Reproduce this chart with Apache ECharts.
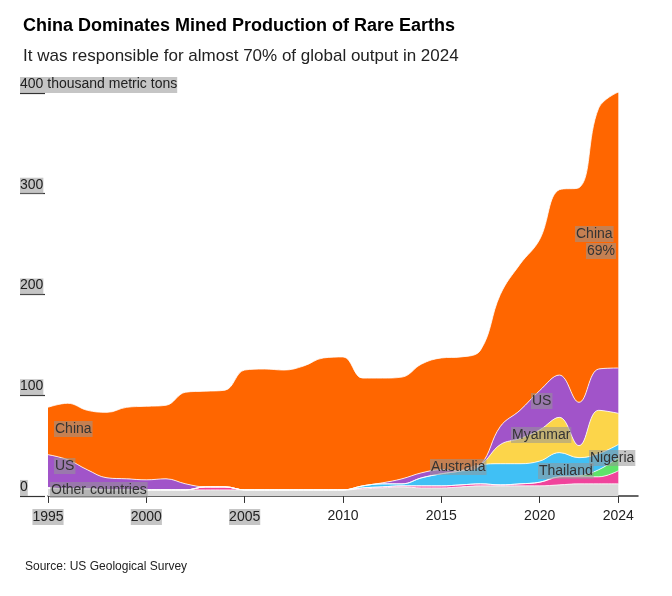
<!DOCTYPE html>
<html><head><meta charset="utf-8">
<script src="https://cdn.jsdelivr.net/npm/echarts@6/dist/echarts.min.js"></script>
<style>html,body{margin:0;background:#fff}#c{width:672px;height:596px}</style>
</head><body><div id="c"></div>
<script>
var years = [];
for (var y = 1995; y <= 2024; y++) years.push(String(y));
var other     = [8,7,7,6,6,6,6,6,6,6,6,6,6,6,6,6,7,8,9,8,8,9,10,10,10,10,11,12,12,12];
var thailand  = [0,0,0,0,0,0,0,0,3,3,0,0,0,0,0,0,1,1,1,2,2,2,2,1,2,3.6,8,7,7,13];
var nigeria   = [0,0,0,0,0,0,0,0,0,0,0,0,0,0,0,0,0,0,0,0,0,0,0,0,0,0,0,1,7,13];
var australia = [0,0,0,0,0,0,0,0,0,0,0,0,0,0,0,0,2,3,2,8,12,14,19,21,20,21,24,18,16,13];
var myanmar   = [0,0,0,0,0,0,0,0,0,0,0,0,0,0,0,0,0,0,0,0,0,0,0,19,25,31,35,12,43,31];
var us        = [33,29,19,12,11,10,11,6,0,0,0,0,0,0,0,0,0,1,5,5,4,0,0,18,28,39,42,43,41,45];
var china     = [47,56,59,65,71,73,73,91,95,96,119,120,119,123,131,132,107,104,101,108,111,113,114,131,145,150,184,213,259,274];
var shownYears = ['1995','2000','2005','2010','2015','2020','2024'];
var hl = ['1995','2000','2005'];

var cats = years.concat(['2025']);
function layer(name, data, color){
  return { name: name, type: 'line', stack: 'all', smooth: 0.4, symbol: 'none',
    xAxisIndex: 1, yAxisIndex: 1,
    data: data, lineStyle: { color: '#fff', width: 0.8 },
    areaStyle: { color: color, opacity: 1 }, itemStyle: { color: color } };
}
var chart = echarts.init(document.getElementById('c'));
var lbl = { fontFamily: 'Liberation Sans', fontSize: 14, fill: '#333', backgroundColor: 'rgba(150,150,150,0.55)', padding: [1,1] };
function tag(text, x, y){ return { type: 'text', left: x, top: y, z: 100, style: Object.assign({ text: text }, lbl) }; }
var showIdx = function(i, v){ return shownYears.indexOf(String(v)) >= 0; };
chart.setOption({
  animation: false,
  textStyle: { fontFamily: 'Liberation Sans' },
  title: [
    { text: 'China Dominates Mined Production of Rare Earths', left: 18, top: 12, textStyle: { fontSize: 18, fontWeight: 'bold', color: '#000' } },
    { text: 'It was responsible for almost 70% of global output in 2024', left: 18, top: 43, textStyle: { fontSize: 17, fontWeight: 'normal', color: '#222' } },
    { text: 'Source: US Geological Survey', left: 20, top: 556, textStyle: { fontSize: 12, fontWeight: 'normal', color: '#222' } }
  ],
  grid: [
    { left: 20, right: 36, top: 93, bottom: 93 },
    { left: 48, right: 34, top: 93, bottom: 93 }
  ],
  xAxis: [
    { type: 'value', gridIndex: 0, show: false, min: 0, max: 1 },
    { type: 'category', gridIndex: 1, data: cats, boundaryGap: false,
      axisLine: { lineStyle: { color: '#333', width: 1.5 } },
      axisTick: { interval: showIdx, length: 7, lineStyle: { color: '#333' } },
      axisLabel: { interval: showIdx, fontSize: 14, color: '#222', margin: 6,
        formatter: function(v){ return hl.indexOf(v) >= 0 ? '{h|' + v + '}' : v; },
        rich: { h: { fontSize: 14, color: '#222', backgroundColor: 'rgba(150,150,150,0.55)', padding: [1,0] } } } }
  ],
  yAxis: [
    { type: 'value', gridIndex: 0, min: -7, max: 400,
      axisLine: { show: false },
      axisTick: { show: true, inside: true, length: 25, customValues: [0,100,200,300,400], lineStyle: { color: '#333', width: 1.2 } },
      axisLabel: { inside: true, customValues: [0,100,200,300,400], verticalAlign: 'bottom', align: 'left', margin: 0,
        fontSize: 14, color: '#222', backgroundColor: 'rgba(150,150,150,0.55)', padding: [0,0,2,0],
        formatter: function(v){ return v === 400 ? '400 thousand metric tons' : String(v); } },
      splitLine: { show: false } },
    { type: 'value', gridIndex: 1, min: -7, max: 400, show: false, splitLine: { show: false } }
  ],
  series: [
    layer('Other countries', other, '#d9d9d9'),
    layer('Thailand', thailand, '#f0449c'),
    layer('Nigeria', nigeria, '#5ee36a'),
    layer('Australia', australia, '#40c0f5'),
    layer('Myanmar', myanmar, '#fcd54a'),
    layer('US', us, '#a154c9'),
    layer('China', china, '#ff6600')
  ],
  graphic: [
    tag('China', 54, 421),
    tag('US', 54, 458),
    tag('Other countries', 50, 482),
    tag('Australia', 430, 459),
    tag('Myanmar', 511, 427),
    tag('US', 531, 393),
    tag('Thailand', 538, 463),
    tag('Nigeria', 589, 450),
    tag('China', 575, 226),
    tag('69%', 586, 243)
  ]
});
</script></body></html>
